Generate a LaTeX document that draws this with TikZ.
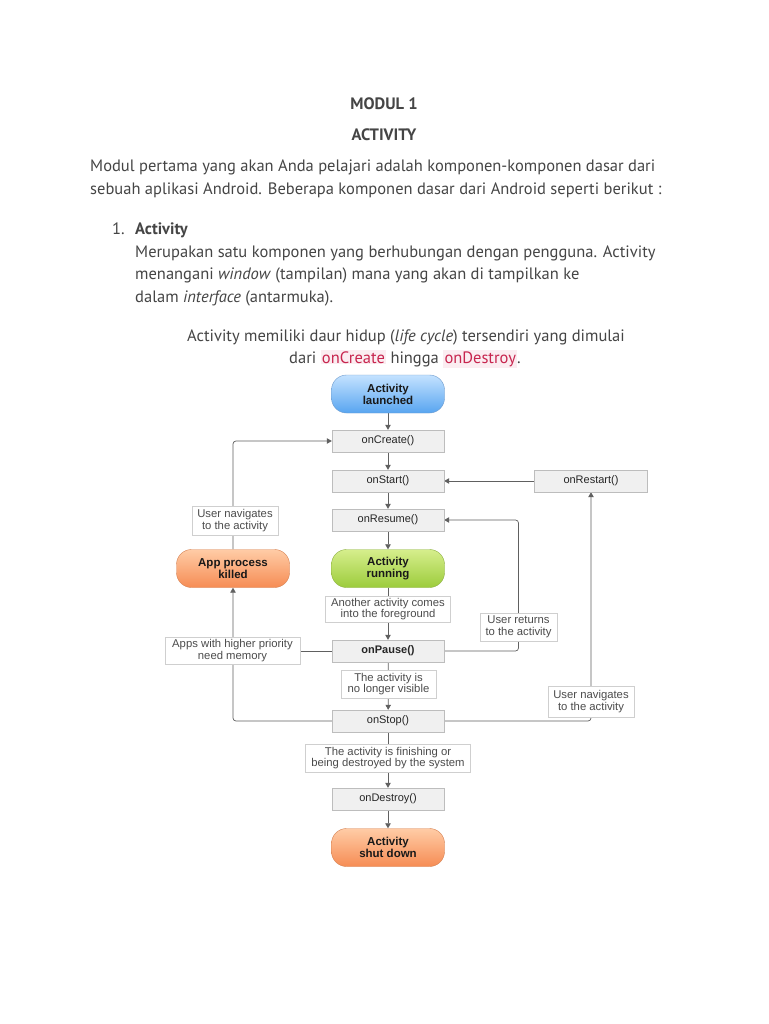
\documentclass[tikz,border=0pt]{standalone}
\usepackage{fontspec}
\setmainfont{PT Sans}
\newfontfamily\helv{Liberation Sans}
\usetikzlibrary{arrows.meta,backgrounds,calc}
\definecolor{txt}{HTML}{454545}
\definecolor{codefg}{HTML}{C7254E}
\definecolor{codebg}{HTML}{FBEDF1}
\definecolor{boxfill}{HTML}{F0F0F0}
\definecolor{boxline}{HTML}{BDBDBD}
\definecolor{lblline}{HTML}{CFCFCF}
\definecolor{lineclr}{HTML}{606060}
\newcommand{\codeword}[1]{{\setlength{\fboxsep}{1.2pt}\colorbox{codebg}{\textcolor{codefg}{#1}}}}
\begin{document}
\begin{tikzpicture}[x=1pt,y=-1pt,
  body/.style={inner sep=0pt, text=txt, font=\fontsize{16.5}{20}\selectfont},
  method/.style={draw=boxline, fill=boxfill, minimum width=112pt, minimum height=22pt, inner sep=0pt, font=\helv\fontsize{11}{12}\selectfont, text=black!85},
  pill/.style={rounded corners=15pt, minimum width=113pt, minimum height=38pt, inner sep=0pt, align=center, font=\helv\bfseries\fontsize{11.5}{12}\selectfont, text=black!90},
  pblue/.style={pill, top color={rgb,255:red,196;green,226;blue,255}, bottom color={rgb,255:red,88;green,165;blue,240}, draw={rgb,255:red,110;green,155;blue,205}},
  pgreen/.style={pill, top color={rgb,255:red,214;green,238;blue,140}, bottom color={rgb,255:red,156;green,204;blue,60}, draw={rgb,255:red,140;green,176;blue,64}},
  porange/.style={pill, top color={rgb,255:red,255;green,204;blue,166}, bottom color={rgb,255:red,246;green,140;blue,84}, draw={rgb,255:red,214;green,128;blue,80}},
  lbl/.style={draw=lblline, fill=white, inner sep=1pt, align=center, font=\helv\fontsize{11.3}{11.5}\selectfont, text=black!70},
  conn/.style={draw=lineclr, line width=0.7pt, rounded corners=3pt},
  arr/.style={conn, -{Triangle[length=5pt,width=5.5pt]}}
]
\useasboundingbox (0,0) rectangle (768,1024);

% page text
\node[body, anchor=base, font=\bfseries\fontsize{16.5}{20}\selectfont] (t1) at (384,110) {MODUL 1};
\node[body, anchor=base, font=\bfseries\fontsize{16.5}{20}\selectfont] (t2) at (384,141) {ACTIVITY};
\node[body, anchor=base west] (p1) at (90,172) {Modul pertama yang akan Anda pelajari adalah komponen-komponen dasar dari};
\node[body, anchor=base west] (p2) at (90,195) {sebuah aplikasi Android. Beberapa komponen dasar dari Android seperti berikut :};
\node[body, anchor=base west] (n1) at (112,235) {1.};
\node[body, anchor=base west] (h1) at (135,235) {\bfseries Activity};
\node[body, anchor=base west] (l1) at (135,257) {Merupakan satu komponen yang berhubungan dengan pengguna. Activity};
\node[body, anchor=base west] (l2) at (135,279) {menangani \textit{window} (tampilan) mana yang akan di tampilkan ke};
\node[body, anchor=base west] (l3) at (135,302) {dalam \textit{interface} (antarmuka).};
\node[body, anchor=base] (c1) at (406,341) {Activity memiliki daur hidup (\textit{life cycle}) tersendiri yang dimulai};
\node[body, anchor=base] (c2) at (405,363) {dari \codeword{onCreate} hingga \codeword{onDestroy}.};

% diagram nodes
\node[pblue] (launched) at (388,394) {Activity\\launched};
\node[method] (create) at (388,441) {onCreate()};
\node[method] (start) at (388,481) {onStart()};
\node[method] (resume) at (388,520) {onResume()};
\node[pgreen] (running) at (388,568.5) {Activity\\running};
\node[lbl, minimum width=125pt, minimum height=26pt] (another) at (388,609) {Another activity comes\\into the foreground};
\node[method, font=\helv\bfseries\fontsize{11}{12}\selectfont] (pause) at (388,651) {onPause()};
\node[lbl, minimum width=95pt, minimum height=28pt] (visible) at (388.5,684) {The activity is\\no longer visible};
\node[method] (stop) at (388,721) {onStop()};
\node[lbl, minimum width=165pt, minimum height=28pt] (finishing) at (388,758) {The activity is finishing or\\being destroyed by the system};
\node[method] (destroy) at (388,799) {onDestroy()};
\node[porange] (shutdown) at (388,847.5) {Activity\\shut down};
\node[method, minimum width=113pt] (restart) at (591,481) {onRestart()};
\node[porange] (killed) at (233,568.5) {App process\\killed};
\node[lbl, minimum width=86pt, minimum height=29pt] (nav1) at (235,520.5) {User navigates\\to the activity};
\node[lbl, minimum width=135pt, minimum height=27pt] (apps) at (232.5,650.5) {Apps with higher priority\\need memory};
\node[lbl, minimum width=77pt, minimum height=28pt] (returns) at (518.5,627) {User returns\\to the activity};
\node[lbl, minimum width=86pt, minimum height=31pt] (nav2) at (591,701.5) {User navigates\\to the activity};

\begin{pgfonlayer}{background}
\fill[white] (0,0) rectangle (768,1024);
\draw[arr] (launched) -- (create);
\draw[arr] (create) -- (start);
\draw[arr] (start) -- (resume);
\draw[arr] (resume) -- (running);
\draw[conn] (running) -- (another);
\draw[arr] (another) -- (pause);
\draw[conn] (pause) -- (visible);
\draw[arr] (visible) -- (stop);
\draw[conn] (stop) -- (finishing);
\draw[arr] (finishing) -- (destroy);
\draw[arr] (destroy) -- (shutdown);
\draw[arr] (restart) -- (start);
\draw[arr] (killed.north) |- (create.west);
\draw[arr] (stop.west) -| (killed.south);
\draw[conn] (pause.west) -- (pause.west -| killed.south);
\draw[arr] (pause.east) -| (returns.center) |- (resume.east);
\draw[arr] (stop.east) -| (restart.south);
\end{pgfonlayer}
\end{tikzpicture}
\end{document}
